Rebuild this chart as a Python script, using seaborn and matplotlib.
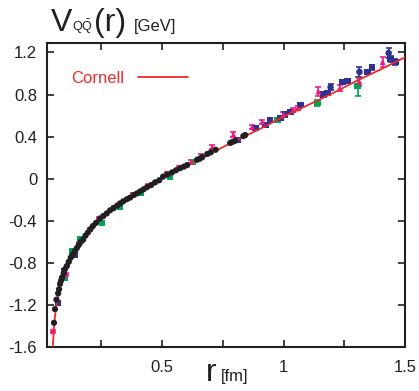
import matplotlib
matplotlib.use("Agg")
import matplotlib.pyplot as plt
import seaborn as sns
import pandas as pd

# ------------------------------
# Static potential V(r) data
# ------------------------------
black_r = [0.055, 0.059, 0.065, 0.072, 0.076, 0.080, 0.084, 0.088, 0.095, 0.100,
           0.108, 0.116, 0.124, 0.132, 0.140, 0.149, 0.157, 0.166, 0.175, 0.185,
           0.195, 0.205, 0.215, 0.228, 0.244, 0.258, 0.272, 0.286, 0.300, 0.315,
           0.327, 0.340, 0.355, 0.368, 0.383, 0.396, 0.410, 0.424, 0.438, 0.455,
           0.471, 0.488, 0.504, 0.522, 0.541, 0.557, 0.574, 0.590, 0.603, 0.644,
           0.655, 0.665, 0.686, 0.700, 0.720, 0.780, 0.790, 0.800, 0.834, 0.842]
black_v = [-1.37, -1.24, -1.15, -1.09, -1.05, -1.00, -0.97, -0.94, -0.90, -0.86,
           -0.83, -0.79, -0.75, -0.72, -0.69, -0.66, -0.63, -0.60, -0.58, -0.54,
           -0.51, -0.48, -0.45, -0.42, -0.38, -0.355, -0.33, -0.30, -0.28, -0.255,
           -0.235, -0.215, -0.195, -0.18, -0.155, -0.14, -0.12, -0.10, -0.08, -0.06,
           -0.035, -0.015, 0.02, 0.04, 0.06, 0.08, 0.10, 0.115, 0.13, 0.18,
           0.19, 0.205, 0.235, 0.25, 0.275, 0.34, 0.35, 0.36, 0.405, 0.415]

magenta_r = [0.050, 0.088, 0.104, 0.130, 0.160, 0.203, 0.240, 0.300, 0.380, 0.440,
             0.520, 0.570, 0.620, 0.660, 0.706, 0.793, 0.871, 0.912, 0.999, 1.040,
             1.057, 1.143, 1.230, 1.312, 1.407]
magenta_v = [-1.45, -0.94, -0.91, -0.71, -0.61, -0.48, -0.37, -0.27, -0.15, -0.065,
             0.05, 0.11, 0.16, 0.22, 0.30, 0.42, 0.49, 0.54, 0.61, 0.655,
             0.67, 0.83, 0.86, 0.92, 1.11]
magenta_err = [0.01, 0.01, 0.01, 0.01, 0.01, 0.01, 0.01, 0.01, 0.01, 0.01,
               0.01, 0.01, 0.015, 0.015, 0.02, 0.02, 0.02, 0.02, 0.02, 0.02,
               0.02, 0.04, 0.03, 0.04, 0.05]

blue_sq_r = [0.071, 0.096, 0.141, 0.810, 0.884, 0.925, 0.945, 0.987, 1.007, 1.028,
             1.069, 1.164, 1.180, 1.242, 1.263, 1.345, 1.362, 1.440, 1.460]
blue_sq_v = [-1.18, -0.88, -0.72, 0.37, 0.485, 0.51, 0.56, 0.58, 0.61, 0.635,
             0.70, 0.80, 0.815, 0.92, 0.93, 1.015, 1.06, 1.14, 1.11]
blue_sq_err = [0.01, 0.01, 0.01, 0.01, 0.01, 0.01, 0.015, 0.015, 0.015, 0.015,
               0.02, 0.02, 0.02, 0.02, 0.02, 0.02, 0.025, 0.03, 0.03]

blue_ci_r = [1.193, 1.312, 1.432]
blue_ci_v = [0.87, 1.015, 1.195]
blue_ci_err = [0.03, 0.05, 0.05]

green_r = [0.100, 0.129, 0.162, 0.253, 0.327, 0.410, 0.533, 0.628, 0.810, 0.974,
           1.139, 1.304]
green_v = [-0.94, -0.69, -0.58, -0.42, -0.27, -0.135, 0.02, 0.16, 0.37, 0.56,
           0.72, 0.88]
green_err = [0.01, 0.01, 0.01, 0.01, 0.01, 0.01, 0.01, 0.01, 0.015, 0.02,
             0.03, 0.09]

# Cornell fit curve
cornell_r = [0.050, 0.055, 0.060, 0.070, 0.080, 0.090, 0.100, 0.120, 0.140, 0.170,
             0.200, 0.250, 0.300, 0.350, 0.400, 0.500, 0.600, 0.700, 0.800, 0.900,
             1.000, 1.100, 1.200, 1.300, 1.400, 1.500]
cornell_v = [-1.60, -1.42, -1.29, -1.13, -1.02, -0.94, -0.87, -0.77, -0.69, -0.59,
             -0.50, -0.38, -0.28, -0.20, -0.13, 0.00, 0.12, 0.24, 0.36, 0.47,
             0.59, 0.70, 0.81, 0.93, 1.04, 1.155]

BLACK = "#231f20"
MAGENTA = "#ec1c8c"
BLUE = "#2e3192"
GREEN = "#00a651"
RED = "#ee2a2a"

sns.set_style("ticks")
plt.rcParams["font.family"] = ["Liberation Sans", "DejaVu Sans"]
plt.rcParams["mathtext.fontset"] = "custom"
plt.rcParams["mathtext.rm"] = "Liberation Sans"

fig = plt.figure(figsize=(4.19, 3.91), dpi=100)
ax = fig.add_axes([0.112, 0.1125, 0.855, 0.7775])

# error bars first, markers on top
for r, v, e, c in [(green_r, green_v, green_err, GREEN),
                   (blue_sq_r, blue_sq_v, blue_sq_err, BLUE),
                   (blue_ci_r, blue_ci_v, blue_ci_err, BLUE),
                   (magenta_r, magenta_v, magenta_err, MAGENTA)]:
    ax.errorbar(r, v, yerr=e, fmt="none", ecolor=c, elinewidth=1.2,
                capsize=2.5, capthick=1.2, zorder=2)

sns.scatterplot(x=green_r, y=green_v, marker="s", s=22, color=GREEN,
                edgecolor="none", ax=ax, zorder=3)
sns.scatterplot(x=blue_sq_r, y=blue_sq_v, marker="s", s=20, color=BLUE,
                edgecolor="none", ax=ax, zorder=3)
sns.scatterplot(x=blue_ci_r, y=blue_ci_v, marker="o", s=22, color=BLUE,
                edgecolor="none", ax=ax, zorder=3)
sns.scatterplot(x=magenta_r, y=magenta_v, marker="^", s=18, color=MAGENTA,
                edgecolor="none", ax=ax, zorder=3)

curve = pd.DataFrame({"r": cornell_r, "V": cornell_v})
sns.lineplot(data=curve, x="r", y="V", color=RED, lw=1.3, sort=False,
             estimator=None, ax=ax, zorder=4, label="Cornell")

sns.scatterplot(x=black_r, y=black_v, marker="o", s=20, color=BLACK,
                edgecolor="none", ax=ax, zorder=5)

ax.set_xlim(0.026, 1.5)
ax.set_ylim(-1.6, 1.29)
ax.set_xticks([0.25, 0.5, 0.75, 1.0, 1.25, 1.5])
ax.set_xticklabels(["", "0.5", "", "1", "", "1.5"])
ax.set_yticks([-1.6, -1.2, -0.8, -0.4, 0, 0.4, 0.8, 1.2])
ax.set_yticklabels(["-1.6", "-1.2", "-0.8", "-0.4", "0", "0.4", "0.8", "1.2"])
ax.tick_params(direction="in", length=5, width=1.2, top=True, right=True,
               labelsize=12, colors="#231f20", pad=7)
ax.tick_params(axis="x", pad=9)
for sp in ax.spines.values():
    sp.set_linewidth(1.5)
    sp.set_color("#231f20")
ax.set_xlabel("")
ax.set_ylabel("")

leg = ax.legend(loc="upper left", bbox_to_anchor=(0.026, 0.957), frameon=False,
                markerfirst=False, fontsize=12, handlelength=3.0,
                labelcolor=RED, handletextpad=0.8)

# title and axis label, built from pieces of different size
W, H = 419.0, 391.0
fig.text(51 / W, 1 - 31 / H, "V", fontsize=23, color=BLACK, va="baseline")
fig.text(72 / W, 1 - 31 / H, r"$\mathregular{Q\bar{Q}}$", fontsize=9,
         color=BLACK, va="baseline")
fig.text(94 / W, 1 - 31 / H, "(r)", fontsize=23, color=BLACK, va="baseline")
fig.text(134 / W, 1 - 31 / H, "[GeV]", fontsize=12, color=BLACK, va="baseline")
fig.text(206 / W, 1 - 381 / H, "r", fontsize=23, color=BLACK, va="baseline")
fig.text(221 / W, 1 - 381 / H, "[fm]", fontsize=12, color=BLACK, va="baseline")

fig.savefig("out.png", dpi=100)
